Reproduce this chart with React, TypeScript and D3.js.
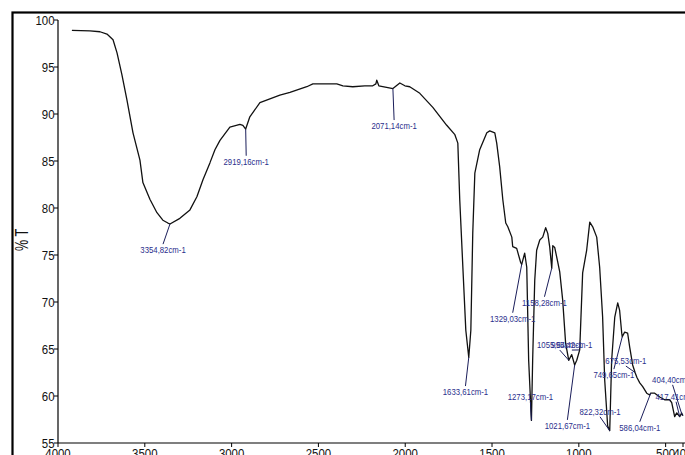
import React from "react";
import * as d3 from "d3";

const wavenumbers = [
  3920, 3816, 3758, 3718, 3683, 3660, 3632, 3603, 3568, 3528, 3511, 3470, 3430, 3396, 3367, 3355,
  3298, 3240, 3200, 3165, 3125, 3096, 3067, 3010, 2952, 2935, 2919, 2895, 2837, 2722, 2664, 2567,
  2532, 2394, 2359, 2302, 2233, 2187, 2169, 2164, 2152, 2100, 2071, 2031, 2002, 1974, 1916, 1841,
  1761, 1714, 1697, 1686, 1668, 1651, 1634, 1622, 1611, 1599, 1571, 1530, 1513, 1484, 1473, 1456,
  1438, 1421, 1409, 1386, 1381, 1358, 1335, 1329, 1312, 1300, 1289, 1273, 1266, 1254, 1243, 1225,
  1208, 1191, 1179, 1168, 1156, 1150, 1139, 1122, 1110, 1093, 1076, 1058, 1041, 1024, 1012, 995,
  978, 955, 937, 920, 897, 880, 863, 851, 834, 822, 811, 793, 776, 765, 753, 750, 736, 719, 707,
  690, 676, 666, 649, 632, 609, 592, 586, 563, 534, 506, 477, 465, 448, 436, 419, 408, 400,
];
const transmittance = [
  98.9, 98.85, 98.75, 98.5, 97.9, 96.5, 94.2, 91.5, 88.0, 85.1, 82.7, 80.9, 79.5, 78.7, 78.4, 78.3,
  78.9, 79.8, 81.2, 83.0, 84.8, 86.2, 87.2, 88.6, 88.9, 88.8, 88.4, 89.7, 91.2, 92.0, 92.3, 92.9,
  93.2, 93.2, 93.0, 92.9, 93.0, 93.0, 93.2, 93.6, 93.0, 92.8, 92.7, 93.3, 93.0, 92.9, 92.2, 90.7,
  88.8, 87.8, 86.9, 80.9, 73.7, 67.0, 64.1, 67.0, 77.3, 83.7, 86.2, 88.0, 88.2, 88.0, 86.9, 84.4,
  80.9, 78.4, 78.0, 76.9, 75.9, 75.7, 74.2, 74.0, 75.2, 73.7, 63.8, 57.4, 63.8, 72.3, 75.5, 76.6,
  76.9, 77.9, 77.3, 75.9, 73.6, 76.0, 75.8, 74.3, 73.2, 70.2, 65.6, 63.8, 64.4, 63.3, 63.8, 64.9,
  73.1, 75.5, 78.5, 78.0, 76.9, 73.7, 68.4, 61.7, 56.8, 56.3, 63.8, 68.4, 69.9, 69.1, 66.7, 66.3,
  66.8, 66.7, 65.2, 63.3, 62.5, 62.0, 61.4, 61.0, 60.3, 60.1, 60.3, 60.3, 59.9, 59.6, 59.6, 59.3,
  57.8, 58.2, 57.8, 58.2, 57.9,
];

const xTicks = [4000, 3500, 3000, 2500, 2000, 1500, 1000, 500, 400];
const yTicks = [55, 60, 65, 70, 75, 80, 85, 90, 95, 100];

// peak annotations: text, peak wavenumber, peak %T
const peakTexts = [
  "3354,82cm-1", "2919,16cm-1", "2071,14cm-1", "1633,61cm-1", "1329,03cm-1", "1158,28cm-1",
  "1273,17cm-1", "1055,54cm-1", "995,42cm-1", "1021,67cm-1", "822,32cm-1", "749,65cm-1",
  "675,53cm-1", "586,04cm-1", "404,40cm-1", "417,41cm-1",
];
const peakWn = [3355, 2919, 2071, 1634, 1329, 1156, 1273, 1058, 995, 1024, 822, 750, 676, 586, 404, 419];
const peakT = [78.3, 88.4, 92.7, 64.1, 74.0, 73.6, 57.4, 63.8, 64.9, 63.3, 56.3, 66.3, 62.5, 60.3, 57.9, 57.8];
// label anchor (text centre wavenumber, baseline %T)
const labelWn = [3395, 2916, 2064, 1653, 1381, 1198, 1279, 1110, 1040, 1066, 878, 798, 729, 649, 460, 440];
const labelT = [75.2, 84.6, 88.4, 60.1, 67.9, 69.6, 59.6, 65.1, 65.1, 56.5, 58.0, 61.9, 63.4, 56.3, 61.4, 59.6];

const W = 685;
const H = 455;
const m = { left: 58, top: 20, right: 683, bottom: 443 };

export default function App() {
  const x = d3.scaleLinear().domain([4000, 400]).range([m.left, m.right]);
  const y = d3.scaleLinear().domain([55, 100]).range([m.bottom, m.top]);
  const pts = wavenumbers.map((w, i) => [w, transmittance[i]] as [number, number]);
  const line = d3
    .line<[number, number]>()
    .x((d) => x(d[0]))
    .y((d) => y(d[1]));
  const font = "'Liberation Sans', Arial, sans-serif";
  const labColor = "#2a2e8c";

  return (
    <svg
      width={W}
      height={H}
      style={{ position: "absolute", left: 0, top: 0, background: "#fff" }}
    >
      <rect x={0} y={0} width={W} height={H} fill="#fff" />
      {/* outer frame */}
      <rect x={12.5} y={12.5} width={W + 20} height={H + 20} fill="none" stroke="#000" strokeWidth={2.2} />
      {/* axes */}
      <line x1={m.left} x2={m.left} y1={m.top} y2={m.bottom} stroke="#000" strokeWidth={1.2} />
      <line x1={m.left} x2={W} y1={m.bottom} y2={m.bottom} stroke="#000" strokeWidth={1.2} />
      {yTicks.map((t) => (
        <g key={"y" + t}>
          <line x1={m.left - 4} x2={m.left} y1={y(t)} y2={y(t)} stroke="#000" strokeWidth={1} />
          <text
            transform={`translate(${m.left - 3.5},${y(t)}) scale(0.88,1)`}
            dy="0.36em"
            textAnchor="end"
            fontFamily={font}
            fontSize={13}
            fill="#111"
          >
            {t}
          </text>
        </g>
      ))}
      {xTicks.map((t) => (
        <g key={"x" + t}>
          <line x1={x(t)} x2={x(t)} y1={m.bottom} y2={m.bottom + 4} stroke="#000" strokeWidth={1} />
          <text
            transform={`translate(${x(t)},${m.bottom + 15}) scale(0.88,1)`}
            textAnchor="middle"
            fontFamily={font}
            fontSize={13}
            fill="#111"
          >
            {t}
          </text>
        </g>
      ))}
      <text
        transform={`translate(28,240) rotate(-90) scale(0.7,1)`}
        textAnchor="middle"
        fontFamily={font}
        fontSize={18}
        fill="#111"
      >
        % T
      </text>
      {/* spectrum */}
      <path d={line(pts) || ""} fill="none" stroke="#111" strokeWidth={1.3} strokeLinejoin="round" />
      {/* annotations */}
      {peakTexts.map((txt, i) => {
        const px = x(peakWn[i]);
        const py = y(peakT[i]);
        const lx = x(labelWn[i]);
        const ly = y(labelT[i]);
        const below = ly > py;
        const ey = below ? ly - 9 : ly + 2;
        return (
          <g key={"p" + i}>
            <line x1={px} y1={py} x2={lx} y2={ey} stroke="#1a1d5a" strokeWidth={1} />
            <text
              transform={`translate(${lx},${ly}) scale(0.82,1)`}
              textAnchor="middle"
              fontFamily={font}
              fontSize={9.5}
              fill={labColor}
            >
              {txt}
            </text>
          </g>
        );
      })}
    </svg>
  );
}
